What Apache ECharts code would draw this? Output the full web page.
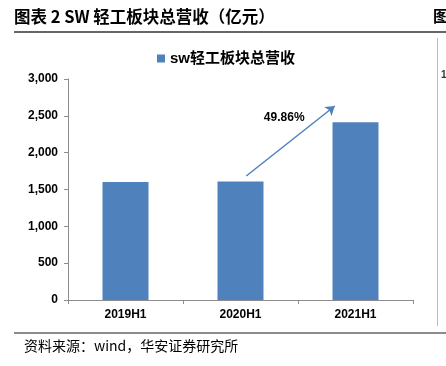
<!DOCTYPE html>
<html>
<head>
<meta charset="utf-8">
<script src="https://cdn.jsdelivr.net/npm/echarts@6/dist/echarts.min.js"></script>
<style>
  html, body { margin: 0; padding: 0; background: #fff; }
  #chart { width: 446px; height: 366px; }
</style>
</head>
<body>
<div id="chart"></div>
<script>
// Values (亿元)
const categories = ["2019H1", "2020H1", "2021H1"];
const revenue = [1602, 1610, 2413];
const yTicks = [0, 500, 1000, 1500, 2000, 2500, 3000];
const growthLabel = "49.86%";
// arrow ends and label anchor in data space (x as category position, y as value)
const arrowFrom = [1.05, 1683];
const arrowTo = [1.82, 2633];
const labelAt = [1.38, 2470];

const FONT = "'Liberation Sans', Arial, 'Noto Sans CJK SC', sans-serif";
const chart = echarts.init(document.getElementById("chart"), null, { renderer: "canvas" });

chart.setOption({
  animation: false,
  textStyle: { fontFamily: FONT },
  grid: { left: 68, right: 33, top: 79, bottom: 66 },
  legend: {
    top: 46,
    left: 152,
    itemWidth: 8,
    itemHeight: 8,
    itemGap: 4,
    icon: "rect",
    textStyle: { fontSize: 15, fontWeight: "bold", color: "#000", fontFamily: FONT },
    data: ["sw轻工板块总营收"],
  },
  xAxis: [
    {
      type: "category",
      data: categories,
      axisLine: { lineStyle: { color: "#8c8c8c" } },
      axisTick: { show: true, length: 4, lineStyle: { color: "#8c8c8c" } },
      axisLabel: { color: "#000", fontWeight: "bold", fontSize: 12, margin: 9 },
    },
    { type: "value", min: -0.5, max: 2.5, show: false },
  ],
  yAxis: {
    type: "value",
    min: yTicks[0],
    max: yTicks[yTicks.length - 1],
    interval: 500,
    axisLine: { show: true, onZero: false, lineStyle: { color: "#8c8c8c" } },
    axisTick: { show: true, length: 4, lineStyle: { color: "#8c8c8c" } },
    splitLine: { show: false },
    axisLabel: {
      color: "#000", fontWeight: "bold", fontSize: 12, margin: 10,
      formatter: (v) => v.toLocaleString("en-US"),
    },
  },
  series: [
    {
      name: "sw轻工板块总营收",
      type: "bar",
      data: revenue,
      barWidth: "40%",
      itemStyle: { color: "#4F81BD" },
    },
    {
      type: "line",
      xAxisIndex: 1,
      data: [],
      silent: true,
      markLine: {
        silent: true,
        symbol: ["none", "arrow"],
        symbolSize: 9,
        lineStyle: { color: "#4F81BD", width: 1.5, type: "solid" },
        label: { show: false },
        data: [[{ coord: arrowFrom }, { coord: arrowTo }]],
      },
      markPoint: {
        silent: true,
        symbol: "circle",
        symbolSize: 0,
        label: {
          show: true, color: "#000", fontWeight: "bold", fontSize: 12,
          formatter: growthLabel,
        },
        data: [{ coord: labelAt }],
      },
    },
  ],
  graphic: [
    { type: "text", left: 14, top: 8, style: { text: "图表 2 SW 轻工板块总营收（亿元）", font: "bold 16.5px 'Noto Sans CJK SC', sans-serif", fill: "#000" } },
    { type: "text", left: 433, top: 8, style: { text: "图", font: "bold 16px 'Noto Sans CJK SC', sans-serif", fill: "#000" } },
    { type: "line", shape: { x1: 14, y1: 32, x2: 446, y2: 32 }, style: { stroke: "#333", lineWidth: 1.5 } },
    { type: "line", shape: { x1: 437.5, y1: 38, x2: 437.5, y2: 326 }, style: { stroke: "#bbb", lineWidth: 1 } },
    { type: "text", left: 441, top: 70, style: { text: "1", font: "bold 10px 'Liberation Sans', Arial", fill: "#333" } },
    { type: "line", shape: { x1: 14, y1: 333, x2: 446, y2: 333 }, style: { stroke: "#666", lineWidth: 1.5 } },
    { type: "text", left: 24, top: 339, style: { text: "资料来源：wind，华安证券研究所", font: "14px 'Noto Sans CJK SC', sans-serif", fill: "#000" } },
  ],
});
</script>
</body>
</html>
